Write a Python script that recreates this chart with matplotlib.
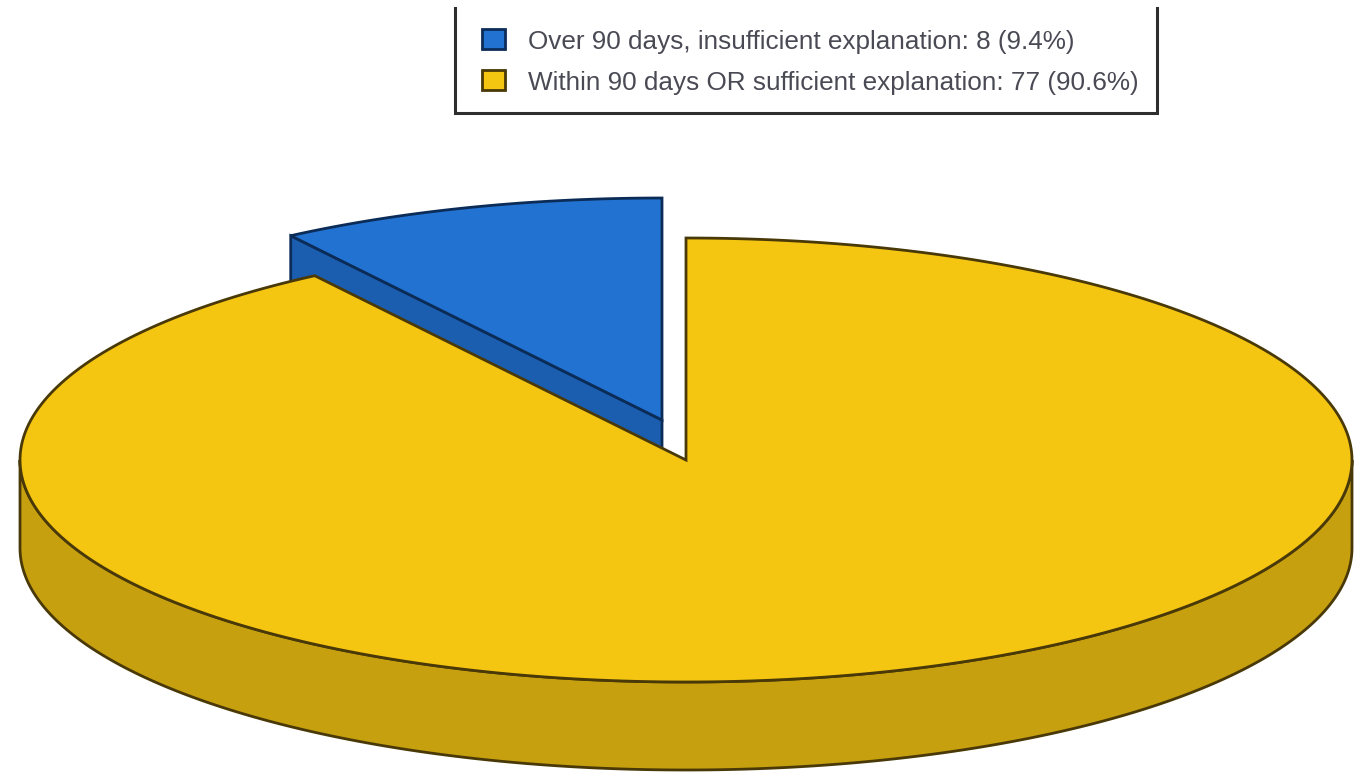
import numpy as np
import matplotlib
matplotlib.use('Agg')
import matplotlib.pyplot as plt
from matplotlib.patches import Polygon, Rectangle

categories = ['Over 90 days, insufficient explanation', 'Within 90 days OR sufficient explanation']
values = [8, 77]

top_colors = ['#2272d2', '#f4c611']
side_colors = ['#1b5dae', '#c6a00e']
edge_colors = ['#0c2c58', '#4a3908']

# pie geometry in pixels
cx, cy = 686, 460
a, b = 666, 222
depth = 88
explode = (-24, -40)

plt.rcParams['font.family'] = ['Liberation Sans', 'DejaVu Sans']

fig = plt.figure(figsize=(13.63, 7.73), dpi=100)
ax = fig.add_axes([0, 0, 1, 1])
ax.set_xlim(0, 1363)
ax.set_ylim(773, 0)
ax.axis('off')


def arc(t0, t1, x0=cx, y0=cy, n=300):
    # t measured counterclockwise from 12 o'clock
    t = np.radians(np.linspace(t0, t1, n))
    return np.column_stack([x0 - a * np.sin(t), y0 - b * np.cos(t)])


split = 360 * values[0] / sum(values)

# Blue slice, pulled out of the pie
bx, by = cx + explode[0], cy + explode[1]
blue_top = np.vstack([[[bx, by]], arc(0, split, bx, by)])
corner = blue_top[-1]
blue_side = np.array([[bx, by], corner, corner + [0, depth], [bx, by + depth]])
ax.add_patch(Polygon(blue_side, closed=True, fc=side_colors[0], ec=edge_colors[0], lw=2, zorder=1))
ax.add_patch(Polygon(blue_top, closed=True, fc=top_colors[0], ec=edge_colors[0], lw=2, joinstyle='miter', zorder=2))

# Yellow rim
front = arc(90, 270)
rim = np.vstack([front, (front + [0, depth])[::-1]])
ax.add_patch(Polygon(rim, closed=True, fc=side_colors[1], ec=edge_colors[1], lw=2, zorder=3))

# Yellow top
yellow_top = np.vstack([[[cx, cy]], arc(split, 360)])
ax.add_patch(Polygon(yellow_top, closed=True, fc=top_colors[1], ec=edge_colors[1], lw=2, joinstyle='miter', zorder=4))

# Legend, its top edge is cut off in the picture
ax.plot([455, 455, 1157, 1157], [8, 113, 113, 8], color='#2e2e2e', lw=2.2, solid_joinstyle='miter', zorder=5)
total = sum(values)
for i, (name, v) in enumerate(zip(categories, values)):
    y = 39 + i * 41
    ax.add_patch(Rectangle((482, y - 10), 23, 20, fc=top_colors[i], ec=edge_colors[i], lw=2, zorder=5))
    ax.text(528, y + 3, f'{name}: {v} ({100 * v / total:.1f}%)', fontsize=18.8, color='#4a4a55',
            va='center', ha='left', zorder=5)

fig.savefig('out.png', dpi=100)
